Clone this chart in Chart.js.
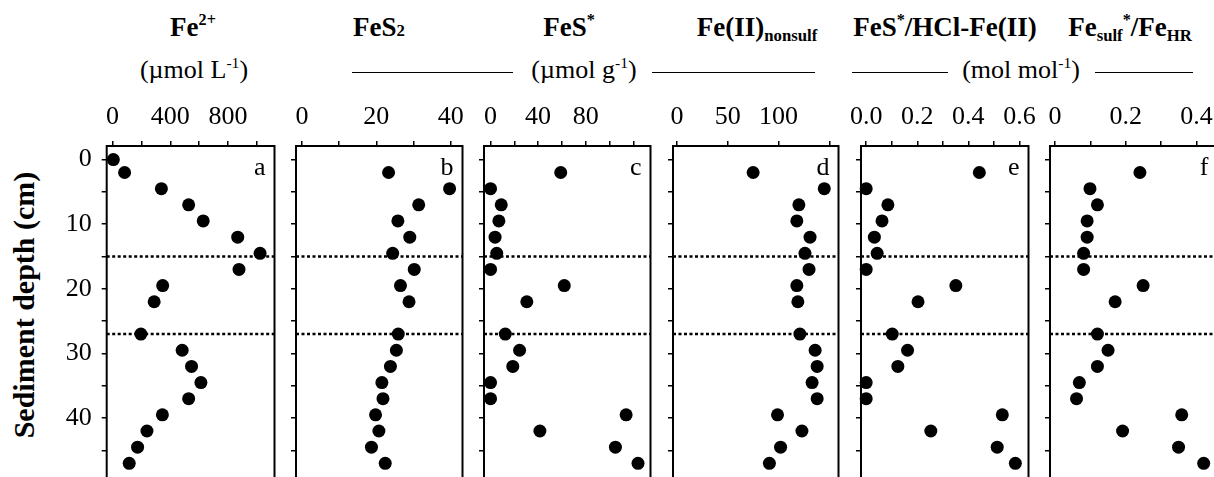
<!DOCTYPE html>
<html>
<head>
<meta charset="utf-8">
<script src="https://cdn.jsdelivr.net/npm/chart.js@4.4.1/dist/chart.umd.min.js"></script>
<style>
html, body { margin: 0; padding: 0; background: #fff; overflow: hidden; }
#wrap { position: relative; width: 1214px; height: 477px; overflow: hidden; font-family: 'Liberation Serif', 'Times New Roman', serif; color: #000; }
.panel { position: absolute; top: 0; }
.title { position: absolute; top: 14px; font-weight: bold; font-size: 27px; line-height: 27px; transform: translateX(-50%); white-space: nowrap; }
.unit { position: absolute; top: 57px; font-size: 26px; line-height: 26px; transform: translateX(-50%); white-space: nowrap; }
.rule { position: absolute; top: 72px; height: 0; border-top: 1.5px solid #000; }
sup { font-size: 0.6em; vertical-align: 0.65em; line-height: 0; }
sub { font-size: 0.62em; vertical-align: -0.3em; line-height: 0; }
#ytitle { position: absolute; left: 24px; top: 305px; transform: translate(-50%, -50%) rotate(-90deg); font-weight: bold; font-size: 30px; white-space: nowrap; }
</style>
</head>
<body>
<div id="wrap">
    <div class="title" style="left:193px">Fe<sup>2+</sup></div>
    <div class="title" style="left:379px">FeS<sub style="vertical-align:0">2</sub></div>
    <div class="title" style="left:569px">FeS<sup>*</sup></div>
    <div class="title" style="left:757px">Fe(II)<sub>nonsulf</sub></div>
    <div class="title" style="left:945px">FeS<sup>*</sup>/HCl-Fe(II)</div>
    <div class="title" style="left:1130px">Fe<sub>sulf</sub><sup>*</sup>/Fe<sub>HR</sub></div>

    <div class="unit" style="left:194px">(µmol L<sup>-1</sup>)</div>
    <div class="rule" style="left:352px;width:161px"></div>
    <div class="unit" style="left:584px">(µmol g<sup>-1</sup>)</div>
    <div class="rule" style="left:652px;width:163px"></div>
    <div class="rule" style="left:852px;width:96px"></div>
    <div class="unit" style="left:1021px">(mol mol<sup>-1</sup>)</div>
    <div class="rule" style="left:1095px;width:98px"></div>

    <div id="ytitle">Sediment depth (cm)</div>
</div>
<script>
// sample depths (cm), shared by every panel
const depths = [0, 2, 4.5, 7, 9.5, 12, 14.5, 17, 19.5, 22, 27, 29.5, 32, 34.5, 37, 39.5, 42, 44.5, 47]

// values per panel, null where no sample
const fe2 = [5, 83, 338, 527, 628, 867, 1022, 876, 347, 288, 196, 482, 547, 612, 527, 345, 238, 173, 115]
const fes2 = [null, 23.3, 39.7, 31.4, 25.8, 29.0, 24.4, 30.2, 26.5, 28.8, 25.9, 25.4, 23.8, 21.5, 21.8, 19.8, 20.7, 18.7, 22.4]
const fesStar = [null, 59, 0, 9, 7, 3.8, 5.2, 0, 62, 30.5, 12.4, 24.4, 18.7, 0, 0, 114, 41.5, 105, 124]
const feNonsulf = [null, 75, 145, 120, 118, 131, 126, 130, 118, 119, 121, 136, 138, 133, 138, 99, 123, 102, 91]
const fesHclRatio = [null, 0.443, 0, 0.085, 0.062, 0.032, 0.043, 0, 0.351, 0.203, 0.102, 0.162, 0.124, 0, 0, 0.533, 0.253, 0.513, 0.584]
const sulfHrRatio = [null, 0.24, 0.099, 0.12, 0.091, 0.091, 0.081, 0.081, 0.249, 0.17, 0.12, 0.15, 0.12, 0.069, 0.061, 0.358, 0.191, 0.349, 0.42]

// axis ticks and their labels ('' = tick mark only)
const depthTicks = [0, 5, 10, 15, 20, 25, 30, 35, 40, 45, 50]
const depthLabels = ['0', '', '10', '', '20', '', '30', '', '40', '', '']
const fe2Ticks = [0, 200, 400, 600, 800, 1000]
const fe2Labels = ['0', '', '400', '', '800', '']
const fes2Ticks = [0, 10, 20, 30, 40]
const fes2Labels = ['0', '', '20', '', '40']
const fesStarTicks = [0, 20, 40, 60, 80, 100, 120]
const fesStarLabels = ['0', '', '40', '', '80', '', '']
const feNonsulfTicks = [0, 50, 100, 150]
const feNonsulfLabels = ['0', '50', '100', '']
const fesHclTicks = [0, 0.1, 0.2, 0.3, 0.4, 0.5, 0.6]
const fesHclLabels = ['0.0', '', '0.2', '', '0.4', '', '0.6']
const sulfHrTicks = [0, 0.1, 0.2, 0.3, 0.4, 0.5]
const sulfHrLabels = ['0', '', '0.2', '', '0.4', '']

const boundaryDepths = [15, 27]
const panelLetters = ['a', 'b', 'c', 'd', 'e', 'f']

Chart.defaults.font.family = "'Liberation Serif', 'Times New Roman', serif"
Chart.defaults.font.size = 26
Chart.defaults.color = '#000'

const panels = [
    { values: fe2, ticks: fe2Ticks, labels: fe2Labels, min: -41, max: 1122, left: 106.7, width: 171.6 },
    { values: fes2, ticks: fes2Ticks, labels: fes2Labels, min: -1.58, max: 43.17, left: 295.7, width: 169.6 },
    { values: fesStar, ticks: fesStarTicks, labels: fesStarLabels, min: -5.5, max: 134.5, left: 484, width: 170.3 },
    { values: feNonsulf, ticks: feNonsulfTicks, labels: feNonsulfLabels, min: -3.85, max: 159, left: 673.3, width: 169.4 },
    { values: fesHclRatio, ticks: fesHclTicks, labels: fesHclLabels, min: -0.0203, max: 0.6355, left: 860.7, width: 171.3 },
    { values: sulfHrRatio, ticks: sulfHrTicks, labels: sulfHrLabels, min: -0.0139, max: 0.459, left: 1050, width: 170.5 },
]

const plotTop = 146
const canvasHeight = 490
const padBottom = 3
const pxPerCm = 6.53
const depthMin = -2.1
const depthMax = depthMin + (canvasHeight - padBottom - plotTop) / pxPerCm

const framePlugin = {
    id: 'frame',
    beforeDatasetsDraw(chart) {
        const { ctx, chartArea, scales } = chart
        ctx.save()
        ctx.strokeStyle = '#000'
        ctx.lineWidth = 2.5
        ctx.setLineDash([3, 2.5])
        boundaryDepths.forEach((d) => {
            const y = scales.y.getPixelForValue(d)
            ctx.beginPath()
            ctx.moveTo(chartArea.left, y)
            ctx.lineTo(chartArea.right, y)
            ctx.stroke()
        })
        ctx.setLineDash([])
        ctx.lineWidth = 2
        ctx.strokeRect(chartArea.left, chartArea.top, chartArea.right - chartArea.left, chartArea.bottom - chartArea.top)
        ctx.fillStyle = '#000'
        ctx.font = "26px 'Liberation Serif', serif"
        ctx.textAlign = 'right'
        ctx.textBaseline = 'alphabetic'
        ctx.fillText(chart.options.plugins.frame.letter, chartArea.right - 9, chartArea.top + 29)
        ctx.restore()
    },
}

// drop the edge padding Chart.js reserves for tick labels
function noPadding(s) {
    s.paddingLeft = 0
    s.paddingRight = 0
    s.paddingTop = 0
    s.paddingBottom = 0
}

const wrap = document.getElementById('wrap')

panels.forEach((p, i) => {
    const axisW = i === 0 ? p.left : 12
    const canvas = document.createElement('canvas')
    const cw = Math.round(axisW + p.width + 3)
    canvas.width = cw
    canvas.height = canvasHeight
    canvas.className = 'panel'
    canvas.style.left = (p.left - axisW) + 'px'
    canvas.style.width = cw + 'px'
    canvas.style.height = canvasHeight + 'px'
    wrap.appendChild(canvas)

    const points = depths
        .map((d, k) => ({ x: p.values[k], y: d }))
        .filter((pt) => pt.x !== null)

    new Chart(canvas.getContext('2d'), {
        type: 'scatter',
        data: {
            datasets: [{
                data: points,
                pointRadius: 6.5,
                pointHoverRadius: 6.5,
                pointBackgroundColor: '#000',
                pointBorderColor: '#000',
                pointBorderWidth: 0,
                clip: false,
            }],
        },
        options: {
            responsive: false,
            animation: false,
            devicePixelRatio: 1,
            layout: { padding: { top: 0, left: 0, right: cw - axisW - p.width, bottom: padBottom } },
            plugins: {
                legend: { display: false },
                tooltip: { enabled: false },
                frame: { letter: panelLetters[i] },
            },
            scales: {
                x: {
                    type: 'linear',
                    position: 'top',
                    min: p.min,
                    max: p.max,
                    afterBuildTicks: (s) => { s.ticks = p.ticks.map((v) => ({ value: v })) },
                    afterFit: (s) => { s.height = plotTop; noPadding(s) },
                    ticks: {
                        autoSkip: false,
                        maxRotation: 0,
                        padding: 8,
                        callback: (v, idx) => p.labels[idx],
                    },
                    grid: { drawOnChartArea: false, drawTicks: true, tickLength: 5, color: '#000', lineWidth: 1.5 },
                    border: { display: false },
                },
                y: {
                    type: 'linear',
                    reverse: true,
                    min: depthMin,
                    max: depthMax,
                    afterBuildTicks: (s) => { s.ticks = depthTicks.map((v) => ({ value: v })) },
                    afterFit: (s) => { s.width = axisW; noPadding(s) },
                    ticks: {
                        autoSkip: false,
                        padding: 10,
                        callback: (v, idx) => (i === 0 ? depthLabels[idx] : ''),
                    },
                    grid: { drawOnChartArea: false, drawTicks: true, tickLength: 5, color: '#000', lineWidth: 1.5 },
                    border: { display: false },
                },
            },
        },
        plugins: [framePlugin],
    })
})
</script>
</body>
</html>
